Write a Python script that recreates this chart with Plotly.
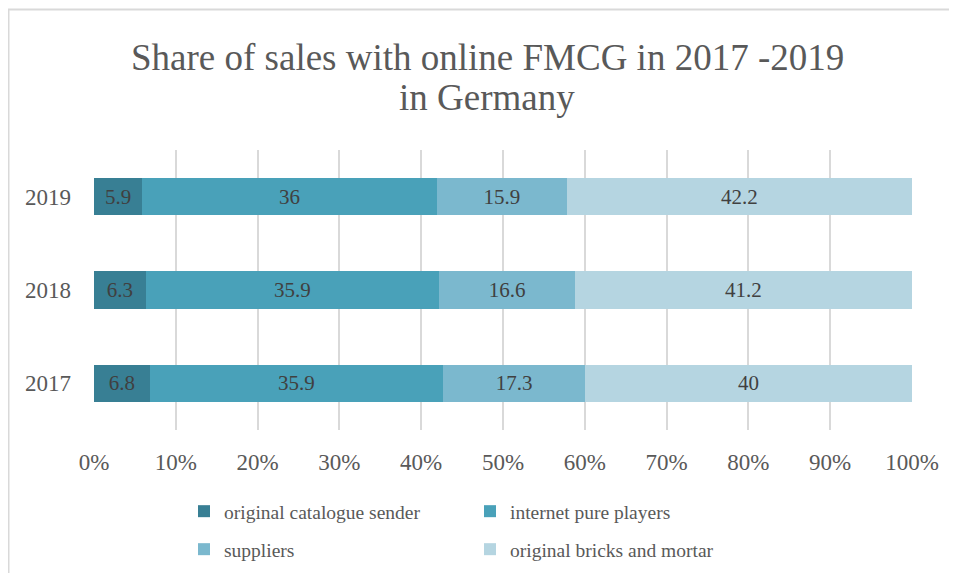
import plotly.graph_objects as go

years = ["2017", "2018", "2019"]
series_names = ["original catalogue sender", "internet pure players", "suppliers", "original bricks and mortar"]
catalogue = [6.8, 6.3, 5.9]
pure_players = [35.9, 35.9, 36]
suppliers = [17.3, 16.6, 15.9]
bricks = [40, 41.2, 42.2]
colors = ["#387F94", "#49A1B9", "#7BB8CE", "#B5D5E1"]
x_ticks = [0, 10, 20, 30, 40, 50, 60, 70, 80, 90, 100]
x_tick_labels = [f"{t}%" for t in x_ticks]
title_lines = ["Share of sales with online FMCG in 2017 -2019", "in Germany"]

font_family = "Liberation Serif, Times New Roman, serif"
text_color = "#595959"

# figure is placed by the page with an 8px body margin
W, H = 941, 565
L, R, T, B = 86, 37, 142, 143
pw, ph = W - L - R, H - T - B


def fx(p):
    return (p - L) / pw


def fy(p):
    return (H - B - p) / ph


fig = go.Figure()
legend_ids = ["legend", "legend", "legend2", "legend2"]
for name, vals, col, lg in zip(series_names, [catalogue, pure_players, suppliers, bricks], colors, legend_ids):
    fig.add_trace(go.Bar(
        y=years, x=vals, name=name, orientation="h",
        marker=dict(color=col, line=dict(width=0)),
        text=[f"{v:g}" for v in vals], textposition="inside",
        insidetextanchor="middle",
        textfont=dict(family=font_family, size=21, color="#404040"),
        width=0.4, legend=lg,
    ))

legend_common = dict(
    orientation="h", xanchor="left", yanchor="top",
    entrywidth=241, entrywidthmode="pixels",
    font=dict(family=font_family, size=19.5, color=text_color),
    traceorder="normal", itemwidth=30, bgcolor="rgba(0,0,0,0)",
)

fig.update_layout(
    barmode="stack",
    width=W, height=H,
    margin=dict(l=L, r=R, t=T, b=B, autoexpand=False),
    paper_bgcolor="white", plot_bgcolor="white",
    xaxis=dict(
        range=[0, 100], tickvals=x_ticks, ticktext=x_tick_labels,
        showgrid=True, gridcolor="#D9D9D9", gridwidth=1.5,
        zeroline=False, showline=False, ticks="",
        tickfont=dict(family=font_family, size=23, color=text_color),
        ticklabelstandoff=16, automargin=False,
    ),
    yaxis=dict(
        range=[-0.5, 2.5], showgrid=False, zeroline=False, showline=False,
        ticks="", tickfont=dict(family=font_family, size=23, color=text_color),
        ticklabelstandoff=22, automargin=False,
    ),
    legend=dict(x=fx(176), y=fy(484), **legend_common),
    legend2=dict(x=fx(176), y=fy(522), **legend_common),
    annotations=[
        dict(text=title_lines[0], xref="paper", yref="paper", x=fx(479), y=fy(49),
             xanchor="center", yanchor="middle", showarrow=False,
             font=dict(family=font_family, size=37, color=text_color)),
        dict(text=title_lines[1], xref="paper", yref="paper", x=fx(479), y=fy(89),
             xanchor="center", yanchor="middle", showarrow=False,
             font=dict(family=font_family, size=37, color=text_color)),
    ],
    shapes=[
        dict(type="line", xref="paper", yref="paper",
             x0=fx(0.5), x1=fx(0.5), y0=fy(1), y1=fy(H + 5),
             line=dict(color="#D9D9D9", width=2), layer="below"),
        dict(type="line", xref="paper", yref="paper",
             x0=fx(0), x1=fx(W + 5), y0=fy(1.5), y1=fy(1.5),
             line=dict(color="#D9D9D9", width=2), layer="below"),
    ],
    showlegend=True,
)

fig.write_html("out.html")
